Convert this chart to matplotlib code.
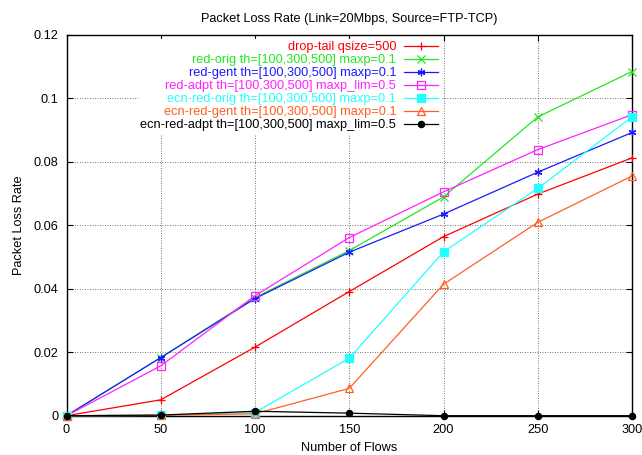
import matplotlib
matplotlib.use("Agg")
import matplotlib.pyplot as plt

plt.rcParams['font.family'] = ['Liberation Sans', 'DejaVu Sans']
plt.rcParams['font.size'] = 9.2

# data
flows = [0, 50, 100, 150, 200, 250, 300]
drop_tail = [0, 0.0050, 0.0216, 0.0391, 0.0564, 0.0698, 0.0812]
red_orig = [0, 0.0183, 0.0372, 0.0520, 0.0689, 0.0941, 0.1084]
red_gent = [0, 0.0183, 0.0369, 0.0515, 0.0635, 0.0767, 0.0892]
red_adpt = [0, 0.0157, 0.0378, 0.0561, 0.0705, 0.0838, 0.0948]
ecn_red_orig = [0, 0.0001, 0.0010, 0.0181, 0.0516, 0.0716, 0.0941]
ecn_red_gent = [0, 0.0001, 0.0006, 0.0086, 0.0414, 0.0609, 0.0755]
ecn_red_adpt = [0, 0.0002, 0.0014, 0.0008, 0, 0, 0]

labels = [
    "drop-tail qsize=500",
    "red-orig th=[100,300,500] maxp=0.1",
    "red-gent th=[100,300,500] maxp=0.1",
    "red-adpt th=[100,300,500] maxp_lim=0.5",
    "ecn-red-orig th=[100,300,500] maxp=0.1",
    "ecn-red-gent th=[100,300,500] maxp=0.1",
    "ecn-red-adpt th=[100,300,500] maxp_lim=0.5",
]
series = [drop_tail, red_orig, red_gent, red_adpt, ecn_red_orig, ecn_red_gent, ecn_red_adpt]
colors = ['#ff0000', '#22e622', '#1a1aff', '#ff22ff', '#22ffff', '#ff6020', '#000000']
markers = ['+', 'x', (6, 2, 0), 's', 's', '^', 'o']
filled = [True, True, True, False, True, False, True]

xticks = [0, 50, 100, 150, 200, 250, 300]
yticks = [0, 0.02, 0.04, 0.06, 0.08, 0.1, 0.12]
ytick_labels = ['0', '0.02', '0.04', '0.06', '0.08', '0.1', '0.12']

fig = plt.figure(figsize=(6.42, 4.55), dpi=100)
ax = fig.add_axes([66.5 / 642, 1 - 415.7 / 455, (632 - 66.5) / 642, (415.7 - 34.7) / 455])

for ys, lab, c, m, f in zip(series, labels, colors, markers, filled):
    ax.plot(flows, ys, color=c, lw=0.9, marker=m, ms=5.5 if m != 'o' else 4.5,
            mew=0.9, mfc=c if f else 'none', mec=c, label=lab, clip_on=False, zorder=3)

ax.set_xlim(0, 300)
ax.set_ylim(0, 0.12)
ax.set_xticks(xticks)
ax.set_yticks(yticks)
ax.set_yticklabels(ytick_labels)
ax.tick_params(direction='in', length=4, width=0.8, top=True, right=True, pad=6)
ax.grid(True, linestyle=(0, (1, 2)), color='#444444', lw=0.6)
for s in ax.spines.values():
    s.set_linewidth(1.0)

ax.set_title("Packet Loss Rate (Link=20Mbps, Source=FTP-TCP)", fontsize=9.2, pad=9)
ax.set_xlabel("Number of Flows", labelpad=4)
ax.set_ylabel("Packet Loss Rate", labelpad=6)

leg = ax.legend(loc='upper right', bbox_to_anchor=(0.662, 0.99), markerfirst=False,
                labelcolor='linecolor', handlelength=2.7, handletextpad=0.6,
                labelspacing=0.08, borderpad=0.2, borderaxespad=0, frameon=True,
                fancybox=False, framealpha=1)
leg.get_frame().set_edgecolor('white')
leg.get_frame().set_linewidth(0)
leg.set_zorder(5)

plt.savefig("out.png", dpi=100)
